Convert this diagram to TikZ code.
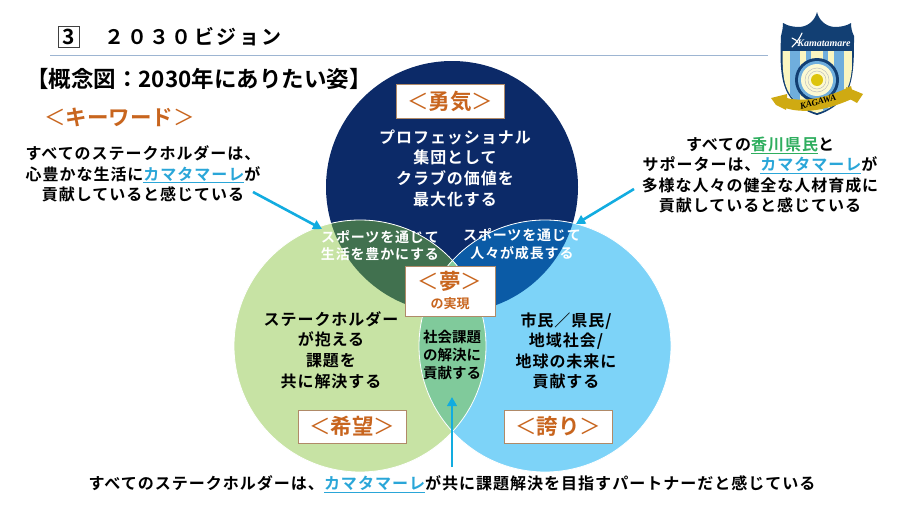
\documentclass[tikz,border=0pt]{standalone}
\usepackage{fontspec}
\usetikzlibrary{arrows.meta}
\setmainfont{Noto Sans CJK JP}[BoldFont={Noto Sans CJK JP Bold}]
\newfontfamily\jpw{Noto Sans CJK JP}[LetterSpace=6,BoldFont={Noto Sans CJK JP Bold}]
\newfontfamily\logofont{Liberation Serif}
\definecolor{navy}{HTML}{0C2A68}
\definecolor{leaf}{HTML}{C7E3A4}
\definecolor{sky}{HTML}{7DD3F8}
\definecolor{navyleaf}{HTML}{41714F}
\definecolor{navysky}{HTML}{0B5BA6}
\definecolor{leafsky}{HTML}{80CA9B}
\definecolor{orangetx}{HTML}{C8651E}
\definecolor{tanline}{HTML}{B08A68}
\definecolor{arrowc}{HTML}{12ACE0}
\definecolor{kama}{HTML}{2AA6D8}
\definecolor{ken}{HTML}{2FAE5F}
\definecolor{rulec}{HTML}{9DB5D2}
\definecolor{logoblue}{HTML}{6FAEDD}
\definecolor{logocream}{HTML}{FBF6C0}
\definecolor{logonavy}{HTML}{123F73}
\definecolor{logogold}{HTML}{CFAA12}
\newcommand{\kama}[1]{{\color{kama}\underline{#1}}}
\newcommand{\ken}[1]{{\color{ken}\underline{#1}}}
\newcommand{\sz}[2]{\fontsize{#1}{#2}\selectfont}
\newcommand{\lb}{{\mdseries ＜}}
\newcommand{\rb}{{\mdseries ＞}}
\tikzset{
  body/.style={align=center,font=\jpw\bfseries\sz{16}{20.6},inner sep=0pt},
  tagbox/.style={draw=tanline,fill=white,line width=0.8pt,minimum width=108pt,minimum height=33pt,inner sep=0pt,text=orangetx,font=\bfseries\sz{21.5}{24}},
  call/.style={draw=arrowc,line width=2.6pt,-{Triangle[length=9pt,width=9.5pt]}},
  rim/.style={draw=white,line width=0.8pt}
}
\begin{document}
\begin{tikzpicture}[x=1pt,y=-1pt]
\useasboundingbox (0,0) rectangle (900,506);
% circles
\fill[navy] (452,187) circle[radius=126pt];
\fill[leaf] (360,346) circle[radius=126pt];
\fill[sky] (545,346) circle[radius=126pt];
\begin{scope}
 \clip (452,187) circle[radius=126pt];
 \fill[navyleaf] (360,346) circle[radius=126pt];
 \fill[navysky] (545,346) circle[radius=126pt];
\end{scope}
\begin{scope}
 \clip (360,346) circle[radius=126pt];
 \fill[leafsky] (545,346) circle[radius=126pt];
\end{scope}
\draw[rim] (360,346) circle[radius=126pt];
\draw[rim] (545,346) circle[radius=126pt];
% header
\node[draw=black!75,line width=0.8pt,minimum width=21pt,minimum height=21pt,inner sep=0pt,font=\bfseries\sz{21}{21}] (num) at (68.5,36.5) {3};
\node[anchor=west,inner sep=0pt,font=\bfseries\sz{20}{22}] (title) at (104.5,37) {\addfontfeature{LetterSpace=12}２０３０ビジョン};
\coordinate (ruleL) at (50,55);
\coordinate (ruleR) at (768,55);
\draw[rulec,line width=0.8pt] (ruleL) -- (ruleR);
\node[anchor=west,inner sep=0pt,font=\bfseries\sz{22.5}{26}] (concept) at (26,79) {【概念図：2030年にありたい姿】};
\node[anchor=west,inner sep=0pt,text=orangetx,font=\bfseries\sz{21.5}{24}] (kw) at (44,117) {\lb キーワード\rb};
% tag boxes
\node[tagbox,minimum height=34pt] (yuki) at (450,101.5) {\lb 勇気\rb};
\node[tagbox] (kibo) at (352,426.5) {\lb 希望\rb};
\node[tagbox] (hokori) at (558,426.5) {\lb 誇り\rb};
\node[draw=tanline,fill=white,line width=0.8pt,minimum width=90pt,minimum height=50pt,inner sep=0pt] (yume) at (450,291) {};
\node[inner sep=0pt,text=orangetx,font=\bfseries\sz{21.5}{24}] (yumeA) at (450,281) {\lb 夢\rb};
\node[inner sep=0pt,text=orangetx,font=\bfseries\sz{13}{14}] (yumeB) at (450,304) {の実現};
% circle texts
\node[body,text=white] (navyT) at (455,168) {プロフェッショナル\\集団として\\クラブの価値を\\最大化する};
\node[body,text=black] (leafT) at (331,350) {ステークホルダー\\が抱える\\課題を\\共に解決する};
\node[body,text=black] (skyT) at (566,351) {市民／県民/\\地域社会/\\地球の未来に\\貢献する};
\node[align=center,inner sep=0pt,text=white,font=\jpw\bfseries\sz{14}{17.5}] (lensL) at (380,245.5) {スポーツを通じて\\生活を豊かにする};
\node[align=center,inner sep=0pt,text=white,font=\jpw\bfseries\sz{14}{17.5}] (lensR) at (522,244) {スポーツを通じて\\人々が成長する};
\node[align=center,inner sep=0pt,text=black,font=\bfseries\sz{14.5}{18}] (lensB) at (452,355) {社会課題\\の解決に\\貢献する};
% callouts
\node[body,text=black] (calloutL) at (143,174) {すべてのステークホルダーは、\\心豊かな生活に\kama{カマタマーレ}が\\貢献していると感じている};
\node[body,text=black] (calloutR) at (760,175) {すべての\ken{香川県民}と\\サポーターは、\kama{カマタマーレ}が\\多様な人々の健全な人材育成に\\貢献していると感じている};
\node[inner sep=0pt,text=black,font=\jpw\bfseries\sz{16.05}{20}] (calloutB) at (452,484) {すべてのステークホルダーは、\kama{カマタマーレ}が共に課題解決を目指すパートナーだと感じている};
\coordinate (tipL) at (322,229);
\coordinate (tipR) at (576,224);
\coordinate (tipB) at (452,397);
\coordinate (startL) at (253,192);
\coordinate (startR) at (634,189);
\coordinate (startB) at (452,467);
\draw[call] (startL) -- (tipL);
\draw[call] (startR) -- (tipR);
\draw[call] (startB) -- (tipB);
% logo
\path[fill=logonavy] (817,12) .. controls (819,20) and (825,26) .. (834,27) .. controls (841,27) and (846,26) .. (851,23)
  .. controls (851,28) and (852,32) .. (854,36) .. controls (854,60) and (854,80) .. (846,94) .. controls (840,104) and (828,112) .. (817,115)
  .. controls (806,112) and (794,104) .. (788,94) .. controls (780,80) and (780,60) .. (781,36) .. controls (782,32) and (783,28) .. (783,23)
  .. controls (788,26) and (793,27) .. (800,27) .. controls (809,26) and (815,20) .. (817,12) -- cycle;
\begin{scope}
 \clip (782.5,51) -- (852.5,51) .. controls (852.5,75) and (850,84) .. (845,93) .. controls (839,103) and (828,110) .. (817,113) .. controls (806,110) and (795,103) .. (789,93) .. controls (784,84) and (782.5,75) .. (782.5,51) -- cycle;
 \fill[logocream] (782,50) rectangle (853,115);
 \fill[logoblue] (790,50) rectangle (800,115);
 \fill[logoblue] (806,50) rectangle (811,115);
 \fill[logoblue] (823,50) rectangle (828,115);
 \fill[logoblue] (834,50) rectangle (844,115);
\end{scope}
\fill[logonavy] (817,80) circle[radius=22pt];
\fill[logoblue] (817,80) circle[radius=19pt];
\fill[logocream!70!white] (817,80) circle[radius=16pt];
\draw[black!25,line width=0.5pt] (817,80) circle[radius=12pt];
\draw[black!25,line width=0.5pt] (817,80) circle[radius=9pt];
\fill[logogold!70!yellow] (817,80) circle[radius=6pt];
\fill[logogold] (771,98) -- (787,94) -- (787,104) -- (786,110) -- (776,105) -- cycle;
\fill[logogold] (863,94) -- (846,87) -- (848,98) -- (857,103) -- cycle;
\path[fill=logogold] (783,97) .. controls (805,104) and (832,96) .. (851,86) -- (854,98) .. controls (832,108) and (808,115) .. (785,108) -- cycle;
\node[inner sep=0pt,rotate=14,text=black,font=\logofont\bfseries\itshape\sz{9}{10}] (kagawa) at (818,102) {KAGAWA};
\node[inner sep=0pt,text=white,font=\logofont\itshape\bfseries\sz{10}{10}] (kamatamare) at (824,43) {Kamatamare};
\draw[white,line width=1.1pt,line cap=round] (792,47) .. controls (797,42) and (800,38) .. (802,33);
\draw[white,line width=1.1pt,line cap=round] (792,38) .. controls (795,39) and (797,41) .. (798,43);
\end{tikzpicture}
\end{document}
